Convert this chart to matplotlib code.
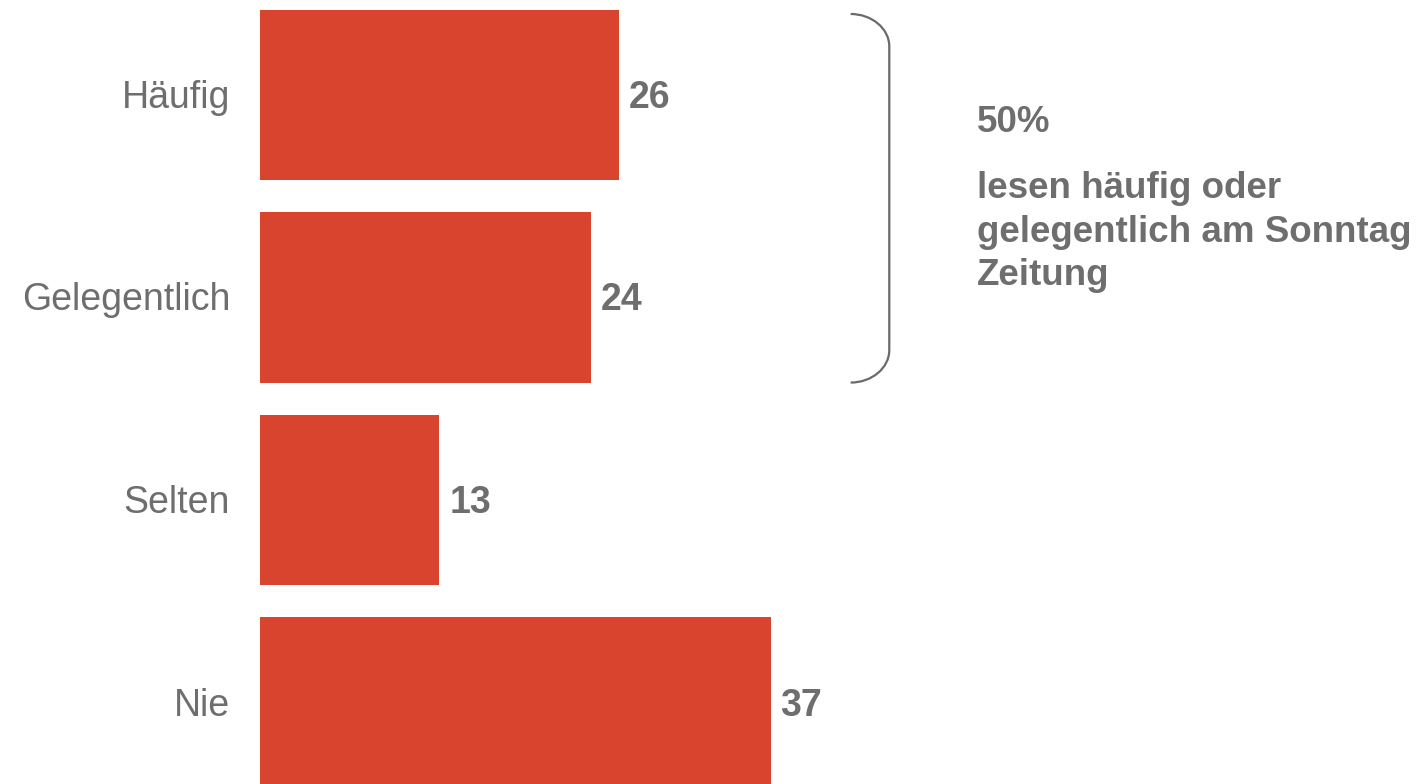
import matplotlib.pyplot as plt
from matplotlib.path import Path
from matplotlib.patches import PathPatch

# Daten
categories = ["Häufig", "Gelegentlich", "Selten", "Nie"]
values = [26, 24, 13, 37]
summary_value = "50%"
summary_text = "lesen häufig oder\ngelegentlich am Sonntag\nZeitung"

BAR_COLOR = "#D9442F"
TEXT_COLOR = "#6E6E6E"
FONT = "Liberation Sans"

plt.rcParams["font.family"] = [FONT, "DejaVu Sans"]

fig = plt.figure(figsize=(14.23, 7.84), dpi=100)
# axes from x=260px to right edge, full height
ax = fig.add_axes([260 / 1423, 0, 1 - 260 / 1423, 1])

pos = list(range(len(categories)))
bar_h = 0.84
ax.barh(pos, values, height=bar_h, color=BAR_COLOR, left=0)

ax.set_xlim(0, 1163 / 13.8)
ax.set_ylim((784 - 95) / 202.5, -95 / 202.5)
ax.axis("off")

# category labels and value labels
for p, cat, v in zip(pos, categories, values):
    ax.annotate(cat, xy=(0, p), xytext=(-30, -3), textcoords="offset pixels",
                ha="right", va="center", fontsize=27, color=TEXT_COLOR)
    ax.annotate(str(v), xy=(v, p), xytext=(10, -3), textcoords="offset pixels",
                ha="left", va="center", fontsize=27, fontweight="bold",
                color=TEXT_COLOR)

# bracket around the first two bars
x0 = 42.8
x1 = 45.6
dx = x1 - x0
y_top = pos[0] - bar_h / 2 + 0.02
y_bot = pos[1] + bar_h / 2
ry = 0.16
k = 0.55
verts = [
    (x0, y_top),
    (x0 + k * dx, y_top), (x1, y_top + ry - k * ry), (x1, y_top + ry),
    (x1, y_bot - ry),
    (x1, y_bot - ry + k * ry), (x0 + k * dx, y_bot), (x0, y_bot),
]
codes = [Path.MOVETO, Path.CURVE4, Path.CURVE4, Path.CURVE4,
         Path.LINETO, Path.CURVE4, Path.CURVE4, Path.CURVE4]
ax.add_patch(PathPatch(Path(verts, codes), fill=False, lw=1.6,
                       edgecolor="#6A6A6A", clip_on=False))

# summary text
fig.text(977 / 1423, 1 - 122 / 784, summary_value, ha="left", va="center",
         fontsize=26.5, fontweight="bold", color=TEXT_COLOR)
fig.text(977 / 1423, 1 - 171 / 784, summary_text, ha="left", va="top",
         fontsize=26.5, fontweight="bold", color=TEXT_COLOR, linespacing=1.32)

fig.savefig("out.png", dpi=100)
